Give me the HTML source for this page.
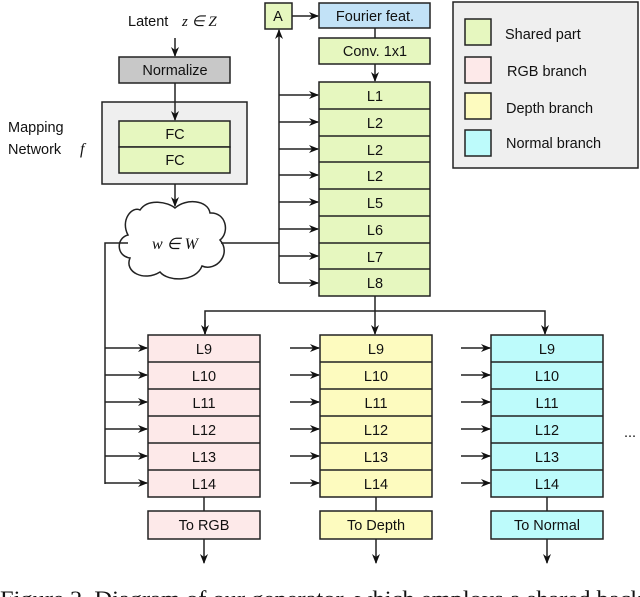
<!DOCTYPE html>
<html><head><meta charset="utf-8"><style>
body{margin:0;background:#fff;width:640px;height:597px;overflow:hidden}
svg{display:block}
text{font-family:"Liberation Sans",sans-serif;font-size:14.5px;fill:#111}
.m{font-family:"Liberation Serif",serif;font-style:italic}
</style></head><body>
<svg width="640" height="597" viewBox="0 0 640 597">
<defs><marker id="a" markerWidth="10" markerHeight="8" refX="9" refY="4" orient="auto" markerUnits="userSpaceOnUse"><path d="M0,0 L10,4 L0,8 L3,4 Z" fill="#111"/></marker></defs>
<g stroke="#222" stroke-width="1.5">
<line x1="175" y1="38" x2="175" y2="56" marker-end="url(#a)"/>
<rect x="119" y="57" width="111" height="26" fill="#c8c8c8"/>
<rect x="102" y="102" width="145" height="82" fill="#efefef"/>
<line x1="175" y1="83" x2="175" y2="120" marker-end="url(#a)"/>
<rect x="119" y="121" width="111" height="26" fill="#e6f7bf"/>
<rect x="119" y="147" width="111" height="26" fill="#e6f7bf"/>
<line x1="175" y1="184" x2="175" y2="206" marker-end="url(#a)"/>
<path d="M140,210 C148,198 168,202 175,208 C186,198 208,200 210,213 C226,212 230,232 220,240 C232,254 216,272 202,266 C196,282 168,282 160,272 C144,282 124,272 130,258 C116,256 116,238 128,235 C120,220 132,206 140,210 Z" fill="#fff"/>
<polyline points="128,243 105,243 105,484" fill="none"/>
<polyline points="221,243 279,243" fill="none"/>
<line x1="279" y1="283" x2="279" y2="30" marker-end="url(#a)"/>
<rect x="265" y="3" width="27" height="26" fill="#e6f7bf"/>
<line x1="292" y1="16" x2="318" y2="16" marker-end="url(#a)"/>
<rect x="319" y="3" width="111" height="25" fill="#c2e2f7"/>
<line x1="375" y1="28" x2="375" y2="38"/>
<rect x="319" y="38" width="111" height="26" fill="#e6f7bf"/>
<line x1="375" y1="64" x2="375" y2="81" marker-end="url(#a)"/>
<rect x="319" y="82" width="111" height="214" fill="#e6f7bf"/>
<line x1="319" y1="109" x2="430" y2="109"/><line x1="319" y1="136" x2="430" y2="136"/><line x1="319" y1="162" x2="430" y2="162"/><line x1="319" y1="189" x2="430" y2="189"/><line x1="319" y1="216" x2="430" y2="216"/><line x1="319" y1="243" x2="430" y2="243"/><line x1="319" y1="269" x2="430" y2="269"/>
<g marker-end="url(#a)">
<line x1="279" y1="95" x2="318" y2="95"/><line x1="279" y1="122" x2="318" y2="122"/><line x1="279" y1="149" x2="318" y2="149"/><line x1="279" y1="175" x2="318" y2="175"/><line x1="279" y1="202" x2="318" y2="202"/><line x1="279" y1="229" x2="318" y2="229"/><line x1="279" y1="256" x2="318" y2="256"/><line x1="279" y1="283" x2="318" y2="283"/>
</g>
<rect x="453" y="2" width="185" height="166" fill="#efefef"/>
<rect x="465" y="19" width="26" height="26" fill="#e6f7bf"/>
<rect x="465" y="57" width="26" height="26" fill="#fde9e9"/>
<rect x="465" y="93" width="26" height="26" fill="#fdfbbf"/>
<rect x="465" y="130" width="26" height="26" fill="#bdfbfb"/>
<line x1="375" y1="296" x2="375" y2="334" marker-end="url(#a)"/>
<polyline points="205,334 205,311 545,311 545,334" fill="none" marker-end="url(#a)"/>
<line x1="205" y1="320" x2="205" y2="334" marker-end="url(#a)"/>
<rect x="148" y="335" width="112" height="162" fill="#fde9e9"/>
<rect x="320" y="335" width="112" height="162" fill="#fdfbbf"/>
<rect x="491" y="335" width="112" height="162" fill="#bdfbfb"/>
<line x1="148" y1="362" x2="260" y2="362"/><line x1="148" y1="389" x2="260" y2="389"/><line x1="148" y1="416" x2="260" y2="416"/><line x1="148" y1="443" x2="260" y2="443"/><line x1="148" y1="470" x2="260" y2="470"/>
<line x1="320" y1="362" x2="432" y2="362"/><line x1="320" y1="389" x2="432" y2="389"/><line x1="320" y1="416" x2="432" y2="416"/><line x1="320" y1="443" x2="432" y2="443"/><line x1="320" y1="470" x2="432" y2="470"/>
<line x1="491" y1="362" x2="603" y2="362"/><line x1="491" y1="389" x2="603" y2="389"/><line x1="491" y1="416" x2="603" y2="416"/><line x1="491" y1="443" x2="603" y2="443"/><line x1="491" y1="470" x2="603" y2="470"/>
<g marker-end="url(#a)">
<line x1="105" y1="348" x2="147" y2="348"/><line x1="105" y1="375" x2="147" y2="375"/><line x1="105" y1="402" x2="147" y2="402"/><line x1="105" y1="429" x2="147" y2="429"/><line x1="105" y1="456" x2="147" y2="456"/><line x1="105" y1="483" x2="147" y2="483"/>
<line x1="290" y1="348" x2="319" y2="348"/><line x1="290" y1="375" x2="319" y2="375"/><line x1="290" y1="402" x2="319" y2="402"/><line x1="290" y1="429" x2="319" y2="429"/><line x1="290" y1="456" x2="319" y2="456"/><line x1="290" y1="483" x2="319" y2="483"/>
<line x1="461" y1="348" x2="490" y2="348"/><line x1="461" y1="375" x2="490" y2="375"/><line x1="461" y1="402" x2="490" y2="402"/><line x1="461" y1="429" x2="490" y2="429"/><line x1="461" y1="456" x2="490" y2="456"/><line x1="461" y1="483" x2="490" y2="483"/>
</g>
<line x1="204" y1="497" x2="204" y2="511"/><line x1="376" y1="497" x2="376" y2="511"/><line x1="547" y1="497" x2="547" y2="511"/>
<rect x="148" y="511" width="112" height="28" fill="#fde9e9"/>
<rect x="320" y="511" width="112" height="28" fill="#fdfbbf"/>
<rect x="491" y="511" width="112" height="28" fill="#bdfbfb"/>
<line x1="204" y1="539" x2="204" y2="563" marker-end="url(#a)"/><line x1="376" y1="539" x2="376" y2="563" marker-end="url(#a)"/><line x1="547" y1="539" x2="547" y2="563" marker-end="url(#a)"/>
</g>
<g text-anchor="middle">
<text x="175" y="75">Normalize</text>
<text x="175" y="139">FC</text><text x="175" y="165">FC</text>
<text x="278" y="21">A</text>
<text x="375" y="21">Fourier feat.</text>
<text x="375" y="56">Conv. 1x1</text>
<text x="375" y="101">L1</text><text x="375" y="128">L2</text><text x="375" y="155">L2</text><text x="375" y="181">L2</text><text x="375" y="208">L5</text><text x="375" y="235">L6</text><text x="375" y="262">L7</text><text x="375" y="288">L8</text>
<text x="204" y="354">L9</text><text x="204" y="381">L10</text><text x="204" y="408">L11</text><text x="204" y="435">L12</text><text x="204" y="462">L13</text><text x="204" y="489">L14</text>
<text x="376" y="354">L9</text><text x="376" y="381">L10</text><text x="376" y="408">L11</text><text x="376" y="435">L12</text><text x="376" y="462">L13</text><text x="376" y="489">L14</text>
<text x="547" y="354">L9</text><text x="547" y="381">L10</text><text x="547" y="408">L11</text><text x="547" y="435">L12</text><text x="547" y="462">L13</text><text x="547" y="489">L14</text>
<text x="204" y="530">To RGB</text><text x="376" y="530">To Depth</text><text x="547" y="530">To Normal</text>
</g>
<text x="128" y="26">Latent</text>
<text x="182" y="26" class="m" style="font-size:15px">z ∈ Z</text>
<text x="8" y="132">Mapping</text>
<text x="8" y="154">Network</text>
<text x="80" y="154" class="m" style="font-size:16px">f</text>
<text x="152" y="249" class="m" style="font-size:16px">w ∈ W</text>
<text x="505" y="39">Shared part</text>
<text x="507" y="76">RGB branch</text>
<text x="506" y="113">Depth branch</text>
<text x="506" y="148">Normal branch</text>
<text x="624" y="437">...</text>
<text x="0" y="606" textLength="655" lengthAdjust="spacingAndGlyphs" style="font-family:'Liberation Serif',serif;font-style:normal;font-size:22px">Figure 2. Diagram of our generator, which employs a shared backb</text>
</svg>
</body></html>
